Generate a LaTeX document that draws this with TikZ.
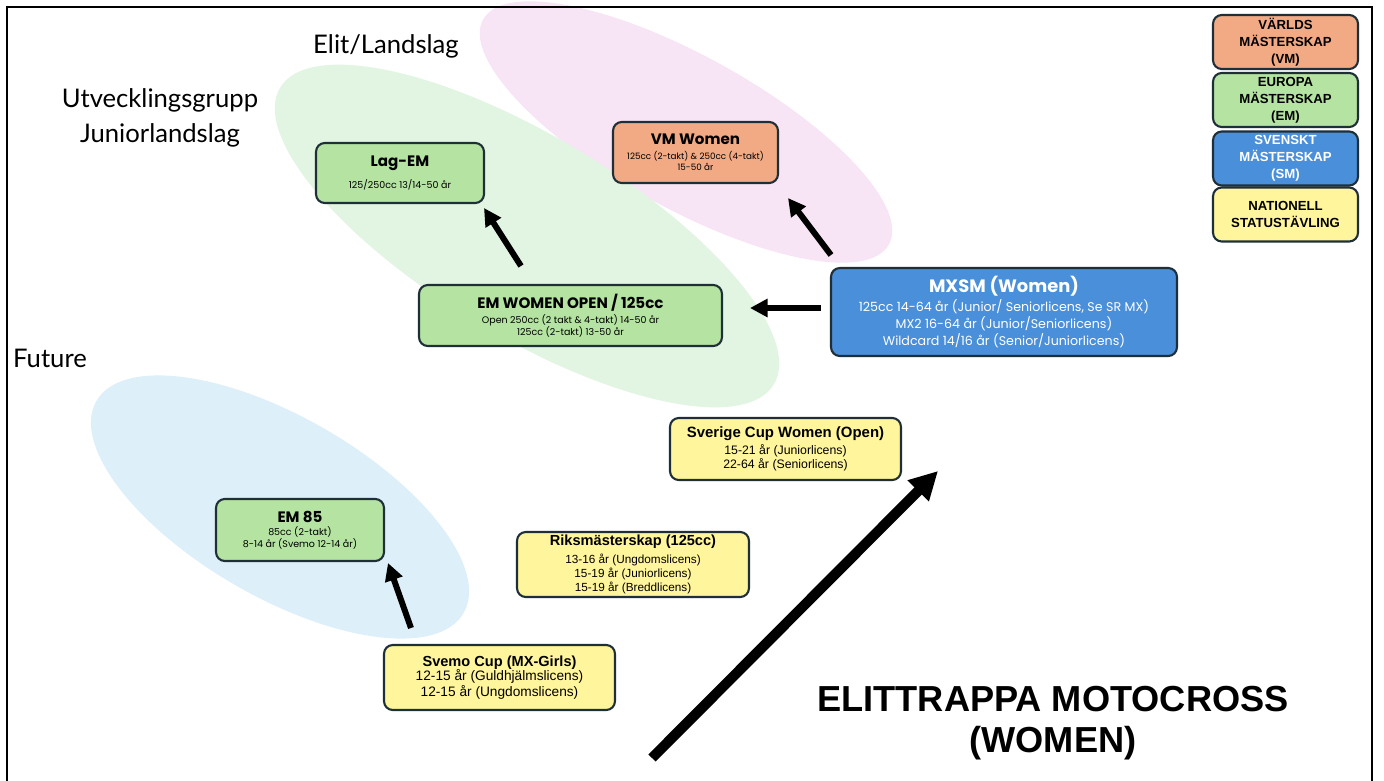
\documentclass[tikz,border=0pt]{standalone}
\usepackage{fontspec}
\setmainfont{Poppins}
\newfontfamily\arialfont{Liberation Sans}
\newfontfamily\labelfont{Lato}
\usetikzlibrary{arrows.meta}

\definecolor{vmorange}{HTML}{F2AA84}
\definecolor{emgreen}{HTML}{B4E3A2}
\definecolor{smblue}{HTML}{4A8FDA}
\definecolor{natyellow}{HTML}{FFF59C}
\definecolor{boxline}{HTML}{1E2F38}
\definecolor{elitbg}{HTML}{F7E4F5}
\definecolor{utvbg}{HTML}{E2F5E2}
\definecolor{futbg}{HTML}{DDEFF8}

\begin{document}
\begin{tikzpicture}[x=0.02cm, y=-0.02cm, >={Triangle[length=10pt,width=10pt]},
  box/.style={draw=boxline, line width=1.2pt, rounded corners=5pt, align=center, inner sep=0pt},
  vm/.style={box, fill=vmorange, font=\fontsize{5}{6.6}\selectfont},
  em/.style={box, fill=emgreen, font=\fontsize{5.4}{6.6}\selectfont},
  sm/.style={box, fill=smblue, text=white, font=\fontsize{7.2}{9.8}\selectfont},
  nat/.style={box, fill=natyellow, font=\arialfont\fontsize{6.2}{7.9}\selectfont},
  legend/.style={box, minimum width=2.9cm, minimum height=1.08cm, font=\arialfont\bfseries\fontsize{7.5}{9.6}\selectfont},
  steparrow/.style={->, line width=3.4pt},
  group/.style={font=\labelfont\fontsize{14.6}{19.8}\selectfont, align=center}]
\useasboundingbox (0,0) rectangle (1384,781);
\fill[white] (0,0) rectangle (1384,781);

% groups
\fill[elitbg, rotate around={-29:(686,132)}] (686,132) ellipse (232 and 76);
\fill[utvbg, rotate around={-31:(527,236)}] (527,236) ellipse (288 and 100);
\fill[futbg, rotate around={-30:(280,507)}] (280,507) ellipse (212 and 90);

\draw[line width=1.3pt] (7,800) -- (7,7) -- (1372,7) -- (1372,800);

\node[group] (elit) at (386,46) {Elit/Landslag};
\node[group] (utv) at (160,118) {Utvecklingsgrupp\\Juniorlandslag};
\node[group] (future) at (50,358) {Future};

% competitions
\node[em, minimum width=3.36cm, minimum height=1.2cm] (lagem) at (400,173)
  {{\fontsize{8.6}{10}\selectfont\bfseries Lag-EM}\\[4pt]
   125/250cc 13/14-50 år};
\node[vm, minimum width=3.3cm, minimum height=1.22cm] (vmwomen) at (695.5,152.5)
  {{\fontsize{8.6}{10}\selectfont\bfseries VM Women}\\[1.5pt]
   125cc (2-takt) \& 250cc (4-takt)\\
   15-50 år};
\node[em, minimum width=6.06cm, minimum height=1.22cm] (emopen) at (570.5,315.5)
  {{\fontsize{8.6}{10}\selectfont\bfseries EM WOMEN OPEN / 125cc}\\[1pt]
   Open 250cc (2 takt \& 4-takt) 14-50 år\\
   125cc (2-takt) 13-50 år};
\node[sm, minimum width=6.92cm, minimum height=1.76cm] (mxsm) at (1004,312)
  {{\fontsize{10.2}{12}\selectfont\bfseries MXSM (Women)}\\[1pt]
   125cc 14-64 år (Junior/ Seniorlicens, Se SR MX)\\
   MX2 16-64 år (Junior/Seniorlicens)\\
   Wildcard 14/16 år (Senior/Juniorlicens)};
\node[nat, font=\arialfont\fontsize{7}{7.9}\selectfont, minimum width=4.62cm, minimum height=1.24cm] (sverigecup) at (785.5,449)
  {{\fontsize{8.5}{10}\selectfont\bfseries Sverige Cup Women (Open)}\\[2pt]
   15-21 år (Juniorlicens)\\
   22-64 år (Seniorlicens)};
\node[em, minimum width=3.36cm, minimum height=1.24cm] (em85) at (300,530)
  {{\fontsize{8.6}{10}\selectfont\bfseries EM 85}\\[1pt]
   85cc (2-takt)\\
   8-14 år (Svemo 12-14 år)};
\node[nat, font=\arialfont\fontsize{6.7}{6.7}\selectfont, minimum width=4.64cm, minimum height=1.3cm] (riks) at (633,564.5)
  {{\fontsize{8.3}{10}\selectfont\bfseries Riksmästerskap (125cc)}\\[2pt]
   13-16 år (Ungdomslicens)\\
   15-19 år (Juniorlicens)\\
   15-19 år (Breddlicens)};
\node[nat, font=\arialfont\fontsize{7.8}{7.9}\selectfont, minimum width=4.62cm, minimum height=1.3cm] (svemocup) at (499.5,677.5)
  {{\fontsize{8.3}{10}\selectfont\bfseries Svemo Cup (MX-Girls)}\\[-1pt]
   12-15 år (Guldhjälmslicens)\\
   12-15 år (Ungdomslicens)};

% legend
\node[legend, fill=vmorange] (legvm) at (1285.5,42) {VÄRLDS\\MÄSTERSKAP\\(VM)};
\node[legend, fill=emgreen] (legem) at (1285.5,100) {EUROPA\\MÄSTERSKAP\\(EM)};
\node[legend, fill=smblue, text=white] (legsm) at (1285.5,158.5) {SVENSKT\\MÄSTERSKAP\\(SM)};
\node[legend, fill=natyellow] (legnat) at (1285.5,214.5) {NATIONELL\\STATUSTÄVLING};

% steps
\coordinate (lagfrom) at (521,266);
\coordinate (lagto) at (484,208);
\coordinate (vmfrom) at (831,255);
\coordinate (vmto) at (788,198);
\coordinate (emfrom) at (821,308);
\coordinate (emto) at (750,308);
\coordinate (em85from) at (411,628);
\coordinate (em85to) at (388,563);
\coordinate (trappfrom) at (652,758);
\coordinate (trappto) at (938,471);
\draw[steparrow] (lagfrom) -- (lagto);
\draw[steparrow] (vmfrom) -- (vmto);
\draw[steparrow] (emfrom) -- (emto);
\draw[steparrow] (em85from) -- (em85to);
\draw[->, line width=5.8pt, >={Triangle[length=16pt,width=16pt]}] (trappfrom) -- (trappto);

\node[font=\arialfont\bfseries\fontsize{20.6}{23.2}\selectfont, align=center] (titel) at (1053,723)
  {ELITTRAPPA MOTOCROSS\\(WOMEN)};
\end{tikzpicture}
\end{document}
